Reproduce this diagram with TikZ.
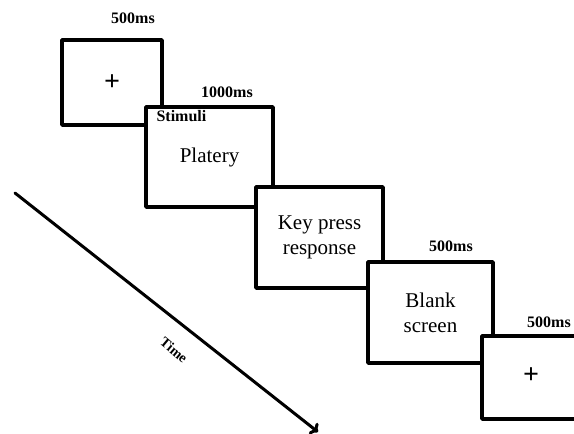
\documentclass[tikz,border=0pt]{standalone}
\usepackage{fontspec}
\setmainfont{Liberation Serif}
\usetikzlibrary{arrows.meta}
\tikzset{
	screen/.style={draw, fill=white, line width=3.4pt, line join=round, inner sep=0pt, font=\fontsize{21}{25}\selectfont, align=center},
	dur/.style={font=\fontsize{16}{18}\selectfont\bfseries},
	cross/.style={font=\fontsize{28}{30}\selectfont\bfseries}
}
\begin{document}
\begin{tikzpicture}[x=1pt, y=-1pt, >={To[length=7pt,width=14pt]}, line cap=round]
				\useasboundingbox (0,0) rectangle (574,434);
				\clip (0,0) rectangle (574,434);
				\path (15,193)coordinate(T0) (318,432)coordinate(T1);
				\draw[line width=3pt, ->] (T0)--(T1);
				\node[rotate=-40, font=\fontsize{14}{16}\selectfont\bfseries] (time) at (174,350) {Time};
				% screens, each over the one before
				\node[screen, minimum width=100pt, minimum height=85pt] (fix) at (112,82.5) {};
				\node[screen, minimum width=127pt, minimum height=100pt] (stim) at (209.5,157) {Platery};
				\node[screen, minimum width=127pt, minimum height=101pt] (resp) at (319.5,237.5) {Key press\\response};
				\node[screen, minimum width=125pt, minimum height=101pt] (blank) at (430.5,312.5) {Blank\\screen};
				\node[screen, minimum width=98pt, minimum height=83pt] (fix2) at (531,377.5) {};
				\node[cross] (plus1) at (fix.center) {+};
				\node[cross] (plus2) at ([yshift=2pt]fix2.center) {+};
				\node[dur, anchor=north west] (stimlab) at (153,107) {Stimuli};
				\foreach \n/\x/\y/\t in {d1/133/18/500ms, d2/227/92/1000ms, d3/451/246/500ms, d4/549/322/500ms}
				{
					\node[dur] (\n) at (\x,\y) {\t};
				}
\end{tikzpicture}
\end{document}
